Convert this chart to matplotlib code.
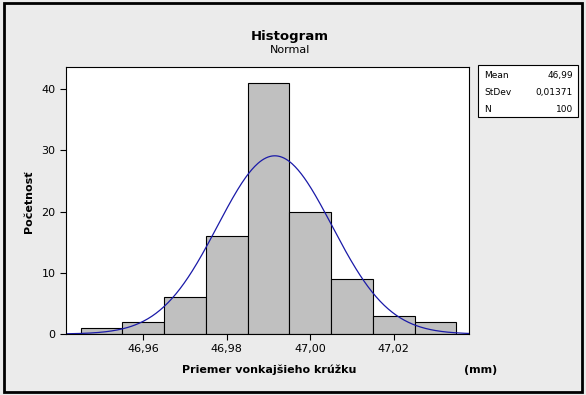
import numpy as np
import matplotlib.pyplot as plt
from matplotlib.patches import Rectangle

# data
bin_edges = [46.945, 46.955, 46.965, 46.975, 46.985, 46.995, 47.005, 47.015, 47.025, 47.035]
counts = [1, 2, 6, 16, 41, 20, 9, 3, 2]
mean = 46.9915
stdev = 0.01371
n = 100
xticks = [46.96, 46.98, 47.00, 47.02]
xtick_labels = ["46,96", "46,98", "47,00", "47,02"]
yticks = [0, 10, 20, 30, 40]

fig = plt.figure(figsize=(5.86, 3.95), dpi=100, facecolor="#ebebeb")
ax = fig.add_axes([0.1126, 0.1544, 0.6877, 0.676])

widths = np.diff(bin_edges)
ax.bar(bin_edges[:-1], counts, width=widths, align="edge",
       color="#c0c0c0", edgecolor="black", linewidth=0.8)

# fitted normal curve
x = np.linspace(46.9415, 47.038, 400)
bw = bin_edges[1] - bin_edges[0]
y = n * bw / (stdev * np.sqrt(2 * np.pi)) * np.exp(-0.5 * ((x - mean) / stdev) ** 2)
ax.plot(x, y, color="#1a1aa8", linewidth=0.9)

ax.set_xlim(46.9415, 47.038)
ax.set_ylim(0, 43.6)
ax.set_xticks(xticks)
ax.set_xticklabels(xtick_labels)
ax.set_yticks(yticks)
ax.tick_params(direction="out", length=4, labelsize=8, width=0.8)
for s in ax.spines.values():
    s.set_linewidth(0.8)

fig.text(0.495, 0.899, "Histogram", ha="center", fontsize=9.5, fontweight="bold")
fig.text(0.495, 0.866, "Normal", ha="center", fontsize=8)
fig.text(0.46, 0.056, "Priemer vonkajšieho krúžku", ha="center", fontsize=8, fontweight="bold")
fig.text(0.821, 0.056, "(mm)", ha="center", fontsize=8, fontweight="bold")
fig.text(0.049, 0.489, "Početnosť", ha="center", va="center", rotation=90,
         fontsize=8, fontweight="bold")

# stats box
fig.patches.append(Rectangle((0.816, 0.703), 0.171, 0.133, transform=fig.transFigure,
                             facecolor="white", edgecolor="black", linewidth=0.8))
rows = [("Mean", "46,99"), ("StDev", "0,01371"), ("N", str(n))]
for i, (k, v) in enumerate(rows):
    yy = 0.808 - i * 0.042
    fig.text(0.826, yy, k, fontsize=6.5, va="center")
    fig.text(0.978, yy, v, fontsize=6.5, va="center", ha="right")

# outer frame
fig.patches.append(Rectangle((0.006, 0.008), 0.988, 0.984, transform=fig.transFigure,
                             facecolor="none", edgecolor="black", linewidth=2))

fig.savefig("out.png", dpi=100, facecolor=fig.get_facecolor())
